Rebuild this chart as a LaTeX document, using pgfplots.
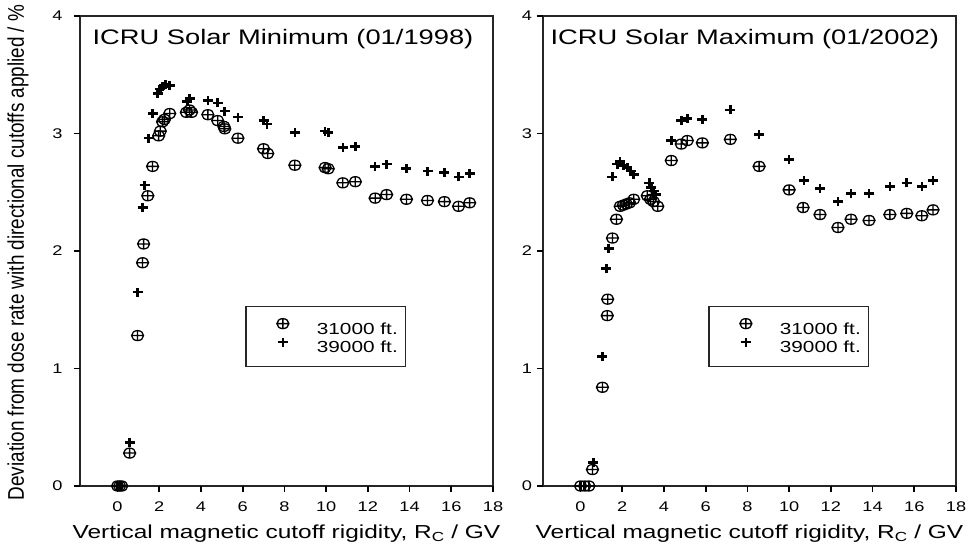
\documentclass[border=0pt]{standalone}
\usepackage{fontspec}
\setmainfont{Liberation Sans}[FakeStretch=1.3]
\newfontfamily\ylabfont{Liberation Sans}
\usepackage{pgfplots}
\usepackage{graphicx}
\pgfplotsset{compat=1.18}

\definecolor{axgray}{RGB}{38,38,38}

% circled-plus marker, slightly wider than tall
\pgfdeclareplotmark{eoplus}{%
  \pgfpathellipse{\pgfpointorigin}{\pgfqpoint{6bp}{0pt}}{\pgfqpoint{0pt}{5bp}}%
  \pgfpathmoveto{\pgfqpoint{-6bp}{0pt}}\pgfpathlineto{\pgfqpoint{6bp}{0pt}}%
  \pgfpathmoveto{\pgfqpoint{0pt}{-5bp}}\pgfpathlineto{\pgfqpoint{0pt}{5bp}}%
  \pgfusepathqstroke}
% heavy plus marker
\pgfdeclareplotmark{wplus}{%
  \pgfpathmoveto{\pgfqpoint{-5bp}{0pt}}\pgfpathlineto{\pgfqpoint{5bp}{0pt}}%
  \pgfpathmoveto{\pgfqpoint{0pt}{-4.5bp}}\pgfpathlineto{\pgfqpoint{0pt}{4.5bp}}%
  \pgfusepathqstroke}

\tikzset{tickline/.style={draw=black, line width=1.8bp}}

\pgfplotsset{
  geom/.style={
    scale only axis, width=413bp, height=470bp,
    xmin=-1.8, xmax=18, ymin=0, ymax=4, clip=false,
  },
  panel/.style={
    geom,
    xtick={0,2,...,18}, ytick={0,1,2,3,4},
    tick pos=left, tick align=outside,
    major tick length=6bp,
    axis line style={draw=axgray, line width=1.5bp},
    every tick/.append style={draw=black, line width=1.8bp},
    axis background/.style={draw=axgray, line width=1.5bp},
    tick label style={font=\fontsize{14bp}{16bp}\selectfont},
    /pgf/number format/assume math mode=true,
    xticklabel style={anchor=center, yshift=-15bp},
    xlabel={Vertical magnetic cutoff rigidity, R\textsubscript{C} / GV},
    xlabel style={at={(axis description cs:0.5,0)}, anchor=base, yshift=-52bp,
      font=\fontsize{18.8bp}{21bp}\selectfont},
  },
  keypanel/.style={
    geom, hide axis,
    legend style={at={(0.40,0.383)}, anchor=north west, draw=axgray,
      line width=1.3bp, fill=none, inner xsep=8bp, inner ysep=12bp,
      row sep=2bp, column sep=28bp,
      font=\fontsize{16bp}{18bp}\selectfont, nodes={inner sep=0pt}},
    legend cell align=left,
  },
  m31/.style={only marks, mark=eoplus, mark options={line width=1.3bp, black}},
  m39/.style={only marks, mark=wplus, mark options={line width=2.6bp, black}},
  k31/.style={m31,
    legend image code/.code={\path[draw=none] (0bp,0bp) rectangle (35bp,10bp);
      \draw[##1] plot coordinates {(29bp,5.5bp)};}},
  k39/.style={m39,
    legend image code/.code={\path[draw=none] (0bp,0bp) rectangle (35bp,10bp);
      \draw[##1] plot coordinates {(29bp,5.5bp)};}},
}

% outward tick strokes along the bottom and left edges
\newcommand{\paneltickmarks}{%
  \pgfplotsinvokeforeach{0,2,...,18}{\draw[tickline] (axis cs:##1,0) -- ++(0pt,-6bp);}%
  \pgfplotsinvokeforeach{0,1,...,4}{\draw[tickline] (axis cs:-1.8,##1) -- ++(-6bp,0pt);}%
}

\begin{document}
\begin{tikzpicture}
\useasboundingbox (0,0) rectangle (969bp,554bp);

% ---------- Solar minimum ----------
\begin{axis}[panel, at={(80bp,68bp)}, anchor=south west,
  yticklabel style={anchor=center, xshift=-16.5bp},
  ylabel={\scalebox{1}[1.2]{Deviation from dose rate with directional cutoffs applied / \%}},
  ylabel style={at={(axis description cs:-0.150,0.497)}, anchor=center,
    font=\ylabfont\fontsize{18.9bp}{20bp}\selectfont},
]
\paneltickmarks
\addplot[m31] coordinates {
 (0,0) (0.1,0) (0.2,0) (0.58,0.28) (0.96,1.28) (1.2,1.90) (1.25,2.06)
 (1.45,2.47) (1.68,2.72) (1.97,2.98) (2.05,3.02) (2.16,3.10) (2.25,3.12)
 (2.5,3.17) (3.3,3.18) (3.45,3.20) (3.55,3.18) (4.33,3.16) (4.8,3.11)
 (5.1,3.06) (5.14,3.04) (5.77,2.96) (7.0,2.87) (7.2,2.83) (8.5,2.73)
 (9.95,2.71) (10.1,2.70) (10.8,2.58) (11.4,2.59) (12.35,2.45) (12.9,2.48)
 (13.85,2.44) (14.86,2.43) (15.67,2.42) (16.35,2.38) (16.88,2.41)
};
\addplot[m39] coordinates {
 (0,0) (0.1,0) (0.58,0.37) (0.96,1.65) (1.2,2.37) (1.3,2.56) (1.49,2.96)
 (1.68,3.17) (1.92,3.34) (2.05,3.38) (2.16,3.40) (2.3,3.42) (2.5,3.41)
 (3.35,3.27) (3.46,3.30) (4.33,3.28) (4.8,3.26) (5.14,3.19) (5.77,3.14)
 (7.0,3.11) (7.16,3.08) (8.5,3.01) (9.95,3.02) (10.1,3.01) (10.8,2.88)
 (11.4,2.89) (12.35,2.72) (12.9,2.74) (13.85,2.70) (14.86,2.68)
 (15.67,2.67) (16.35,2.63) (16.88,2.66)
};
\node[anchor=base west, inner sep=0pt, font=\fontsize{21bp}{24bp}\selectfont]
  at (rel axis cs:0.030,0.940) {ICRU Solar Minimum (01/1998)};
\end{axis}
% key for the left panel
\begin{axis}[keypanel, at={(80bp,68bp)}, anchor=south west]
\addlegendimage{k31}\addlegendentry{31000 ft.}
\addlegendimage{k39}\addlegendentry{39000 ft.}
\end{axis}

% ---------- Solar maximum ----------
\begin{axis}[panel, at={(543bp,68bp)}, anchor=south west,
  yticklabel style={anchor=center, xshift=-10bp},
]
\paneltickmarks
\addplot[m31] coordinates {
 (0,0) (0.2,0) (0.4,0) (0.57,0.14) (1.05,0.84) (1.28,1.45) (1.3,1.59)
 (1.53,2.11) (1.72,2.27) (1.9,2.38) (2.05,2.39) (2.2,2.40) (2.35,2.41)
 (2.55,2.44) (3.2,2.47) (3.35,2.44) (3.5,2.42) (3.7,2.38) (4.35,2.77)
 (4.83,2.91) (5.12,2.94) (5.84,2.92) (7.18,2.95) (8.56,2.72) (10.0,2.52)
 (10.67,2.37) (11.48,2.31) (12.34,2.20) (12.97,2.27) (13.83,2.26)
 (14.83,2.31) (15.64,2.32) (16.36,2.30) (16.9,2.35)
};
\addplot[m39] coordinates {
 (0,0) (0.2,0) (0.62,0.20) (1.05,1.10) (1.24,1.85) (1.34,2.02) (1.53,2.63)
 (1.77,2.74) (1.9,2.76) (2.05,2.73) (2.25,2.71) (2.4,2.68) (2.55,2.65)
 (3.3,2.58) (3.4,2.54) (3.5,2.51) (3.6,2.48) (4.35,2.94) (4.83,3.11)
 (5.12,3.13) (5.84,3.12) (7.18,3.20) (8.56,2.99) (10.0,2.78) (10.72,2.60)
 (11.48,2.53) (12.34,2.42) (12.97,2.49) (13.83,2.49) (14.83,2.55)
 (15.64,2.58) (16.36,2.55) (16.9,2.60)
};
\node[anchor=base west, inner sep=0pt, font=\fontsize{21bp}{24bp}\selectfont]
  at (rel axis cs:0.018,0.940) {ICRU Solar Maximum (01/2002)};
\end{axis}
% key for the right panel
\begin{axis}[keypanel, at={(543bp,68bp)}, anchor=south west]
\addlegendimage{k31}\addlegendentry{31000 ft.}
\addlegendimage{k39}\addlegendentry{39000 ft.}
\end{axis}
\end{tikzpicture}
\end{document}
